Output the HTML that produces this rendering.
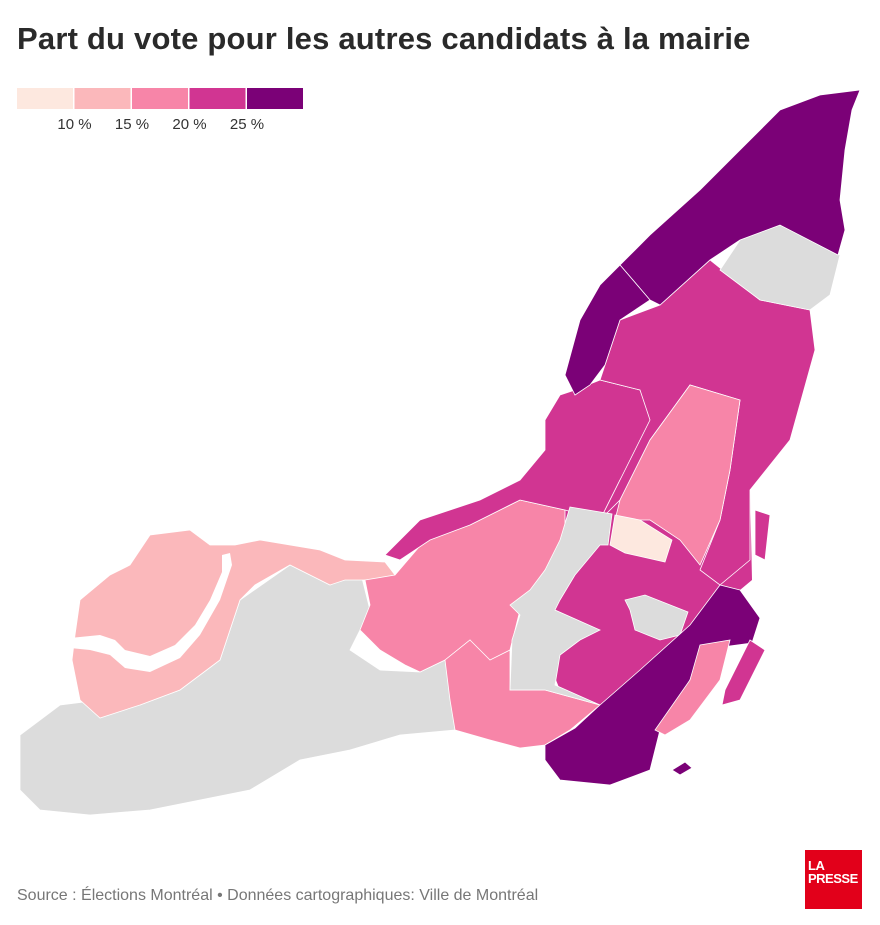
<!DOCTYPE html>
<html><head><meta charset="utf-8"><style>
body{margin:0;background:#fff;width:880px;height:925px;overflow:hidden;font-family:"Liberation Sans",sans-serif;}
h1{position:absolute;left:17px;top:21px;margin:0;font-size:31px;font-weight:bold;color:#2a2a2a;letter-spacing:0.2px}
#src{position:absolute;left:17px;top:887px;font-size:16px;color:#777;letter-spacing:0px}
#logo{position:absolute;left:805px;top:850px;width:57px;height:59px;background:#e2001a;color:#fff;font-weight:bold;font-size:13px;line-height:13px;padding:9px 0 0 3px;box-sizing:border-box;letter-spacing:-0.5px}
svg{position:absolute;left:0;top:0}
</style></head><body>
<h1>Part du vote pour les autres candidats à la mairie</h1>
<svg id="map" width="880" height="925"></svg>
<div id="src">Source : Élections Montréal • Données cartographiques: Ville de Montréal</div>
<div id="logo">LA<br>PRESSE</div>
<script>
const legendColors=["#fde8df","#fbb8bb","#f785a8","#d13592","#7b0177"];
const legendTicks=["10 %","15 %","20 %","25 %"];
const regionNames=["central-base","west-gray","pierrefonds","saint-laurent","lasalle","bordeaux","east","rosemont","lightest","center-gray","gray-2","north-gray","north-dark","northwest-dark","south-dark","south-band","nuns-island","river-island","small-island"];
const regionClass=[3,-1,1,2,2,3,3,2,0,-1,-1,-1,4,4,4,2,3,3,4];
const shapes=[
"545,420 600,380 620,320 660,305 710,260 760,300 810,310 815,350 790,440 750,490 752,580 740,590 720,585 690,625 640,670 600,705 560,690 540,640 530,600 560,540 565,510",
"20,735 60,705 100,700 140,705 180,690 220,660 240,600 290,565 330,585 360,570 370,610 350,650 380,670 420,672 445,660 455,700 455,730 400,735 350,750 300,760 250,790 200,800 150,810 90,815 40,810 20,790",
"75,635 80,600 110,575 130,565 150,535 190,530 210,545 235,545 260,540 290,545 320,550 345,560 385,562 395,575 370,580 345,580 330,585 290,565 255,585 240,600 220,660 180,690 140,705 100,718 80,700 72,660",
"365,580 395,575 425,540 470,525 520,500 565,510 565,560 545,570 520,610 510,650 500,670 480,660 470,640 445,660 420,672 405,665 380,650 360,630 370,605",
"445,660 470,640 490,660 510,650 510,690 545,690 600,705 570,730 545,745 520,748 490,740 455,730 450,700",
"385,555 420,520 450,510 480,500 520,480 545,450 545,420 560,395 575,390 600,380 640,390 660,420 620,480 600,520 565,510 520,500 470,525 430,540 400,560",
"600,380 620,320 660,305 710,260 760,300 810,310 815,350 790,440 750,490 750,560 720,585 700,570 720,520 730,470 740,400 690,385 650,440 620,500 600,520 620,480 650,420 640,390",
"620,500 650,440 690,385 740,400 730,470 720,520 700,565 680,540 650,520 615,520",
"615,515 640,520 672,540 665,562 625,553 610,545",
"570,507 612,514 608,545 600,545 575,575 560,600 555,610 600,630 580,640 560,655 555,685 600,705 545,690 510,690 512,640 520,615 510,605 530,590 545,570 560,540",
"625,600 645,595 688,612 680,635 660,640 635,630 630,610",
"740,240 780,225 840,255 830,295 810,310 760,300 720,270",
"620,265 650,235 700,190 740,150 780,110 820,95 860,90 852,110 845,150 840,200 845,230 838,255 780,225 740,240 710,260 660,305 650,300",
"565,375 580,320 600,285 620,265 650,300 620,320 605,365 590,385 575,395",
"545,745 575,728 600,705 640,670 690,625 720,585 740,590 760,618 752,643 700,650 690,680 660,730 650,770 610,785 560,780 545,760",
"655,730 690,680 700,645 730,640 720,680 690,720 665,735",
"725,690 750,640 765,650 740,700 722,705",
"755,510 770,515 765,560 755,555",
"672,770 685,762 692,768 680,775"
];
const svg=document.getElementById('map');
const NS="http://www.w3.org/2000/svg";
function color(c){return c<0?"#dcdcdc":legendColors[c];}
shapes.forEach((pts,i)=>{
 const p=document.createElementNS(NS,'polygon');
 p.setAttribute('points',pts);
 p.setAttribute('fill',color(regionClass[i]));
 p.setAttribute('stroke',i===0?'none':'#fff');p.setAttribute('stroke-width','0.8');
 
 
 svg.appendChild(p);
});
const river=document.createElementNS(NS,'polygon');
river.setAttribute('points','70,638 100,635 115,640 125,650 150,656 175,645 195,625 210,600 222,572 222,555 230,553 232,565 220,600 200,635 180,658 150,672 125,668 110,655 90,650 70,648');
river.setAttribute('fill','#fff');


svg.appendChild(river);
const lx=17,ly=88,lw=56,lh=21;
legendColors.forEach((c,i)=>{
 const r=document.createElementNS(NS,'rect');
 r.setAttribute('x',lx+i*(lw+1.5));r.setAttribute('y',ly);r.setAttribute('width',lw);r.setAttribute('height',lh);r.setAttribute('fill',c);
 
 
 svg.appendChild(r);
});
legendTicks.forEach((t,i)=>{
 const tx=document.createElementNS(NS,'text');
 tx.setAttribute('x',lx+(i+1)*(lw+1.5));tx.setAttribute('y',129);tx.setAttribute('text-anchor','middle');
 tx.setAttribute('font-size','15');tx.setAttribute('fill','#333');tx.setAttribute('font-family','Liberation Sans, sans-serif');
 tx.textContent=t;
 
 
 svg.appendChild(tx);
});
</script>
</body></html>
